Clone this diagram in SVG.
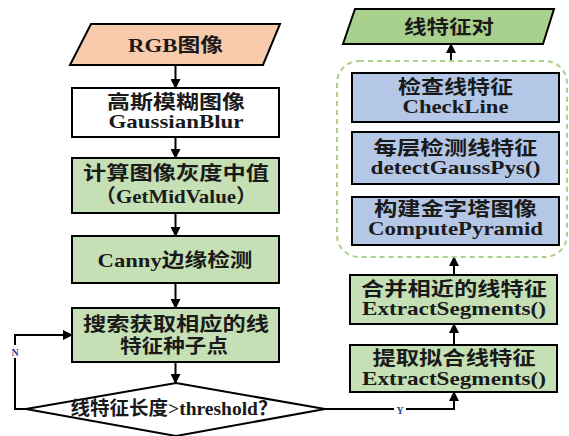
<svg xmlns="http://www.w3.org/2000/svg" width="569" height="436" viewBox="0 0 569 436">
<style>
.b{stroke:#000;stroke-width:2}
.w{fill:#fff}
.g{fill:#C5E0B4}
.u{fill:#B4C7E7}
.t{font-family:"Liberation Serif","Noto Sans CJK SC",serif;font-weight:bold;font-size:19px;fill:#1a1a1a;text-anchor:middle}
.c{fill:none;stroke:#000;stroke-width:2}
.l{font-family:"Liberation Serif",serif;font-weight:bold;font-size:10px;fill:#2F3F8F;text-anchor:middle}
</style>
<defs>
<marker id="ah" markerWidth="10" markerHeight="10" refX="9" refY="5" orient="auto" markerUnits="userSpaceOnUse">
<path d="M0,0 L10,5 L0,10 Z" fill="#000"/>
</marker>
</defs>
<rect width="569" height="436" fill="#fff"/>
<g id="connectors">
<line class="c" x1="175.5" y1="65" x2="175.5" y2="88" marker-end="url(#ah)"/>
<line class="c" x1="175.5" y1="137" x2="175.5" y2="158" marker-end="url(#ah)"/>
<line class="c" x1="175.5" y1="213" x2="175.5" y2="236" marker-end="url(#ah)"/>
<line class="c" x1="175.5" y1="283" x2="175.5" y2="308" marker-end="url(#ah)"/>
<line class="c" x1="175.5" y1="362" x2="175.5" y2="383" marker-end="url(#ah)"/>
<polyline class="c" points="26,409 15,409 15,335 72,335" marker-end="url(#ah)"/>
<rect x="9" y="345" width="12" height="13" fill="#fff"/>
<text class="l" x="15" y="356">N</text>
<polyline class="c" points="325,409 454,409 454,392" marker-end="url(#ah)"/>
<rect x="394" y="403" width="12" height="13" fill="#fff"/>
<text class="l" x="400" y="414">Y</text>
<line class="c" x1="454" y1="345" x2="454" y2="324" marker-end="url(#ah)"/>
<line class="c" x1="454" y1="275" x2="454" y2="257" marker-end="url(#ah)"/>
<line class="c" x1="451" y1="61" x2="451" y2="44" marker-end="url(#ah)"/>
</g>
<g id="rgb">
<polygon class="b" points="91,24 280,24 263,65 70,65" fill="#F8CBAD"/>
<text class="t" x="175.5" y="52" textLength="95" lengthAdjust="spacingAndGlyphs">RGB图像</text>
</g>
<g id="gauss">
<rect class="b w" x="72" y="88" width="207" height="49"/>
<text class="t" x="176" y="109" textLength="138" lengthAdjust="spacingAndGlyphs">高斯模糊图像</text>
<text class="t" x="176" y="128" textLength="135" lengthAdjust="spacingAndGlyphs">GaussianBlur</text>
</g>
<g id="midvalue">
<rect class="b g" x="72" y="158" width="207" height="55"/>
<text class="t" x="176" y="180" textLength="186" lengthAdjust="spacingAndGlyphs">计算图像灰度中值</text>
<text class="t" x="176" y="203" textLength="162" lengthAdjust="spacingAndGlyphs">（GetMidValue）</text>
</g>
<g id="canny">
<rect class="b g" x="72" y="236" width="207" height="47"/>
<text class="t" x="175" y="267" textLength="155" lengthAdjust="spacingAndGlyphs">Canny边缘检测</text>
</g>
<g id="search">
<rect class="b g" x="72" y="308" width="207" height="54"/>
<text class="t" x="176" y="331" textLength="186" lengthAdjust="spacingAndGlyphs">搜索获取相应的线</text>
<text class="t" x="174" y="353" textLength="108" lengthAdjust="spacingAndGlyphs">特征种子点</text>
</g>
<g id="decision">
<polygon class="b w" points="176,383 325,409 176,436 26,409"/>
<text class="t" x="174" y="415" textLength="207" lengthAdjust="spacingAndGlyphs">线特征长度&gt;threshold？</text>
</g>
<g id="pairs">
<polygon class="b" points="355,9 554,9 543,44 343,44" fill="#A9D18E"/>
<text class="t" x="449" y="34" textLength="90" lengthAdjust="spacingAndGlyphs">线特征对</text>
</g>
<g id="group">
<rect x="337" y="61" width="230" height="196" rx="22" ry="22" fill="none" stroke="#A9D18E" stroke-width="2" stroke-dasharray="5,4"/>
</g>
<g id="checkline">
<rect class="b u" x="352" y="73" width="207" height="49"/>
<text class="t" x="455.5" y="94" textLength="115" lengthAdjust="spacingAndGlyphs">检查线特征</text>
<text class="t" x="455.5" y="113" textLength="106" lengthAdjust="spacingAndGlyphs">CheckLine</text>
</g>
<g id="detect">
<rect class="b u" x="352" y="132" width="207" height="52"/>
<text class="t" x="455.5" y="155" textLength="164" lengthAdjust="spacingAndGlyphs">每层检测线特征</text>
<text class="t" x="455.5" y="174" textLength="170" lengthAdjust="spacingAndGlyphs">detectGaussPys()</text>
</g>
<g id="pyramid">
<rect class="b u" x="352" y="197" width="207" height="48"/>
<text class="t" x="455.5" y="216" textLength="163" lengthAdjust="spacingAndGlyphs">构建金字塔图像</text>
<text class="t" x="455.5" y="235" textLength="175" lengthAdjust="spacingAndGlyphs">ComputePyramid</text>
</g>
<g id="merge">
<rect class="b g" x="350" y="275" width="207" height="49"/>
<text class="t" x="454" y="296" textLength="186" lengthAdjust="spacingAndGlyphs">合并相近的线特征</text>
<text class="t" x="454" y="315" textLength="184" lengthAdjust="spacingAndGlyphs">ExtractSegments()</text>
</g>
<g id="extract">
<rect class="b g" x="350" y="345" width="207" height="47"/>
<text class="t" x="454" y="365" textLength="163" lengthAdjust="spacingAndGlyphs">提取拟合线特征</text>
<text class="t" x="454" y="385" textLength="184" lengthAdjust="spacingAndGlyphs">ExtractSegments()</text>
</g>
</svg>
